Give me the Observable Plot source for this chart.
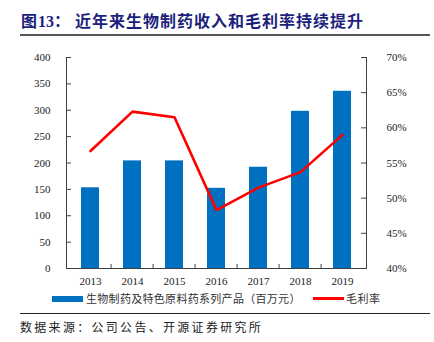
<!DOCTYPE html>
<html>
<head>
<meta charset="utf-8">
<script src="https://cdn.jsdelivr.net/npm/d3@7"></script>
<script src="https://cdn.jsdelivr.net/npm/@observablehq/plot@0.6"></script>
<style>
  html, body { margin: 0; padding: 0; background: #fff; }
  #wrap { position: relative; width: 434px; height: 342px; overflow: hidden; font-family: "Noto Sans CJK SC", sans-serif; }
  #chart { position: absolute; left: 0; top: 0; }
  .abs { position: absolute; white-space: nowrap; }
  #title { left: 21px; top: 9px; font-size: 16px; font-weight: 700; color: #1c1f7c; line-height: 22px; letter-spacing: 1px; }
  #title .num { font-family: "Liberation Serif", serif; font-weight: 700; letter-spacing: 0; }
  #tline { left: 20px; top: 34px; width: 410px; height: 0; border-top: 2px solid #555; }
  #bline { left: 20px; top: 313px; width: 410px; height: 0; border-top: 1px solid #222; }
  #leg1sw { left: 52px; top: 296px; width: 31px; height: 6px; background: #0070C0; }
  #leg1 { left: 86px; top: 290px; font-size: 11px; line-height: 16px; color: #333; letter-spacing: 0.3px; }
  #leg2sw { left: 313px; top: 297px; width: 31px; height: 0; border-top: 3px solid #FF0000; }
  #leg2 { left: 346px; top: 290px; font-size: 11px; line-height: 16px; color: #333; letter-spacing: 0.5px; }
  #src { left: 20px; top: 318px; font-size: 12px; line-height: 18px; color: #222; letter-spacing: 2.3px; }
</style>
</head>
<body>
<div id="wrap">
  <div id="chart"></div>
  <div id="title" class="abs">图<span class="num">13</span>：<span style="margin-left:4px">近年来生物制药收入和毛利率持续提升</span></div>
  <div id="tline" class="abs"></div>
  <div id="leg1sw" class="abs"></div>
  <div id="leg1" class="abs">生物制药及特色原料药系列产品（百万元）</div>
  <div id="leg2sw" class="abs"></div>
  <div id="leg2" class="abs">毛利率</div>
  <div id="bline" class="abs"></div>
  <div id="src" class="abs">数据来源：公司公告、开源证券研究所</div>
</div>
<script>
const years = ["2013", "2014", "2015", "2016", "2017", "2018", "2019"];
const revenue = [153, 204, 204, 152, 192, 298, 336];
const grossMargin = [56.7, 62.3, 61.5, 48.3, 51.5, 53.7, 59.0];
const leftTicks = [0, 50, 100, 150, 200, 250, 300, 350, 400];
const rightTicks = [40, 45, 50, 55, 60, 65, 70];

// secondary axis mapping: 40%..70% onto 0..400
const pMin = 40, pMax = 70, yMax = 400;
const toY = p => (p - pMin) / (pMax - pMin) * yMax;
const fromY = v => v / yMax * (pMax - pMin) + pMin;

const data = years.map((y, i) => ({year: y, rev: revenue[i], m: grossMargin[i]}));

const W = 434, H = 342, mL = 66, mR = 68, mT = 57, mB = 74;
const plotW = W - mL - mR, plotH = H - mT - mB;
const step = plotW / years.length;
const axisColor = "#404040";

const chart = Plot.plot({
  width: W, height: H,
  marginLeft: mL, marginRight: mR, marginTop: mT, marginBottom: mB,
  style: {fontFamily: "'Liberation Serif', 'Times New Roman', serif", fontSize: "11px", color: "#222", background: "#fff"},
  x: {type: "band", domain: years, paddingInner: 0.56, paddingOuter: 0.28, label: null},
  y: {domain: [0, yMax], label: null},
  marks: [
    Plot.barY(data, {x: "year", y: "rev", fill: "#0070C0"}),
    Plot.line(data, {x: "year", y: d => toY(d.m), stroke: "#FF0000", strokeWidth: 2.6, strokeLinejoin: "miter"}),
    Plot.frame({anchor: "left", stroke: axisColor}),
    Plot.frame({anchor: "right", stroke: axisColor}),
    Plot.frame({anchor: "bottom", stroke: axisColor}),
    Plot.tickY(leftTicks, {y: d => d, insetRight: plotW - 5, stroke: axisColor}),
    Plot.tickY(rightTicks.map(toY), {y: d => d, insetLeft: plotW - 5, stroke: axisColor}),
    Plot.tickX(years.slice(1), {x: d => d, dx: -step / 2, insetTop: plotH - 4, stroke: axisColor}),
    Plot.axisY(leftTicks, {anchor: "left", tickSize: 0, tickPadding: 16, label: null, fill: "#222"}),
    Plot.axisY(rightTicks.map(toY), {anchor: "right", tickSize: 0, tickPadding: 20, label: null, fill: "#222",
      tickFormat: v => Math.round(fromY(v)) + "%"}),
    Plot.axisX({anchor: "bottom", tickSize: 0, tickPadding: 9, label: null, fill: "#222"})
  ]
});
document.getElementById("chart").appendChild(chart);
</script>
</body>
</html>
